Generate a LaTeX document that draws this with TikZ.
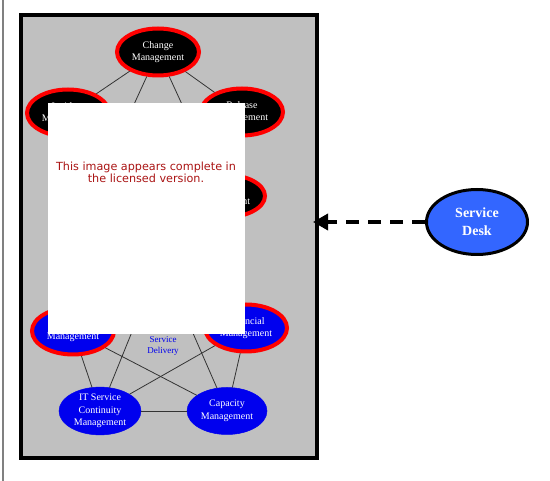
\documentclass[tikz,border=0pt]{standalone}
\usepackage{fontspec}
\setmainfont{Liberation Serif}
\newfontfamily\notefont{DejaVu Sans}
\usetikzlibrary{shapes.geometric,arrows.meta}

\definecolor{panelgray}{RGB}{192,192,192}
\definecolor{itilblue}{RGB}{0,0,238}
\definecolor{deskblue}{RGB}{51,102,255}
\definecolor{notered}{RGB}{170,20,20}

\tikzset{
  proc/.style={ellipse,inner sep=0pt,minimum width=82pt,minimum height=47pt,
    align=center,text=white,font=\fontsize{10}{12.5}\selectfont},
  support/.style={proc,fill=black,draw=red,line width=4pt},
  delivery/.style={proc,fill=itilblue,draw=red,line width=4pt},
  plainproc/.style={proc,fill=itilblue,draw=itilblue,line width=0.5pt},
  link/.style={draw=black!80,line width=0.8pt},
}

\begin{document}
\begin{tikzpicture}[x=1pt,y=-1pt]
      \useasboundingbox (0,0) rectangle (550,481);
      \draw[gray,line width=2pt] (2.5,0) -- (2.5,481);
      \node[draw=black,line width=4pt,fill=panelgray,inner sep=0pt,
        minimum width=296pt,minimum height=443pt,anchor=north west] (frame) at (19,13) {};
      % service support
      \node[support] (change) at (158,52) {Change\\Management};
      \node[support] (release) at (242,112) {Release\\Management};
      \node[support,minimum height=43pt] (problem) at (224,196) {Problem\\Management};
      \node[support] (config) at (92,196) {Configuration\\Management};
      \node[support] (incident) at (68,113) {Incident\\Management};
      \foreach \a/\b in {change/release,change/incident,change/problem,change/config,%
        release/problem,release/config,release/incident,problem/config,%
        problem/incident,config/incident}
        \draw[link] (\a) -- (\b);
      % service delivery
      \node[delivery] (avail) at (73,331) {Availability\\Management};
      \node[delivery] (financial) at (246,328) {Financial\\Management};
      \node[plainproc] (continuity) at (100,411) {IT Service\\Continuity\\Management};
      \node[plainproc,minimum width=80pt] (capacity) at (227,411) {Capacity\\Management};
      \node[plainproc] (slm) at (161,260) {Service Level\\Management};
      \node[text=itilblue,align=center,font=\fontsize{9}{11}\selectfont] (deliv) at (163,346)
        {Service\\Delivery};
      \foreach \a/\b in {avail/financial,avail/continuity,avail/capacity,avail/slm,%
        financial/continuity,financial/capacity,financial/slm,continuity/capacity,%
        continuity/slm,capacity/slm}
        \draw[link] (\a) -- (\b);
      % desk
      \node[ellipse,fill=deskblue,draw=black,line width=3pt,inner sep=0pt,
        minimum width=101pt,minimum height=65pt,align=center,text=white,
        font=\bfseries\fontsize{14}{18}\selectfont] (desk) at (477,222) {Service\\Desk};
      \draw[line width=3.5pt,dash pattern=on 13pt off 9pt,shorten >=-6pt,
        -{Triangle[length=15pt,width=16pt]}] (desk) -- (desk -| frame.east);
      % note box
      \node[fill=white,inner sep=0pt,minimum width=197pt,minimum height=231pt,
        anchor=north west] (note) at (48,103) {};
      \node[text=notered,align=center,font=\notefont\fontsize{11.2}{12}\selectfont]
        (notetext) at (146,172) {This image appears complete in\\the licensed version.};
    \end{tikzpicture}
\end{document}
